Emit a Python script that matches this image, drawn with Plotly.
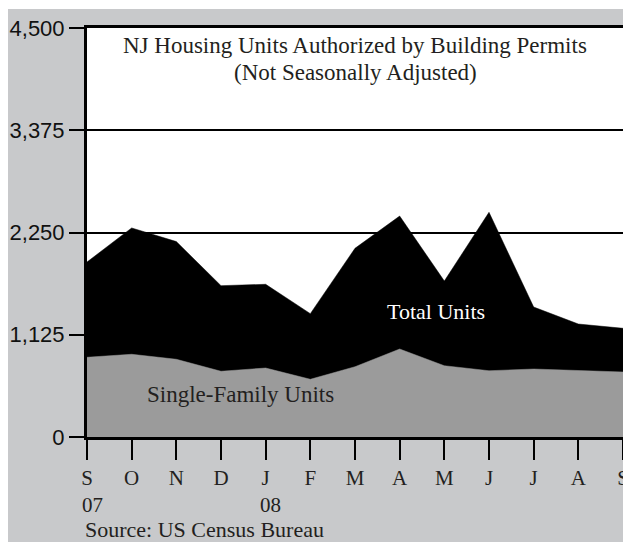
import plotly.graph_objects as go

# Monthly values, Sep 2007 - Sep 2008
months = ["S", "O", "N", "D", "J", "F", "M", "A", "M", "J", "J", "A", "S"]
total_units = [1925, 2300, 2150, 1665, 1680, 1357, 2076, 2431, 1716, 2472, 1430, 1243, 1196]
single_family = [877, 910, 855, 723, 759, 635, 773, 968, 784, 729, 748, 729, 715]
y_ticks = [0, 1125, 2250, 3375, 4500]
year_labels = ["07", "08"]
year_pos = [0, 4]

serif = "Liberation Serif, Times New Roman, serif"
sans = "Liberation Sans, Arial, sans-serif"
ink = "#231f20"
x_idx = list(range(len(months)))

fig = go.Figure()

# black area = total units, gray area on top = single-family
fig.add_trace(go.Scatter(
    x=x_idx, y=total_units, mode="lines", fill="tozeroy",
    fillcolor="#000000", line=dict(color="#000000", width=0.5),
    hoverinfo="skip", showlegend=False,
))
fig.add_trace(go.Scatter(
    x=x_idx, y=single_family, mode="lines", fill="tozeroy",
    fillcolor="#9b9b9b", line=dict(color="#9b9b9b", width=0.5),
    hoverinfo="skip", showlegend=False,
))

annotations = [
    dict(text="NJ Housing Units Authorized by Building Permits", x=0.5, y=0.958,
         xref="paper", yref="paper", showarrow=False, yanchor="middle",
         font=dict(family=serif, size=23, color=ink)),
    dict(text="(Not Seasonally Adjusted)", x=0.5, y=0.89,
         xref="paper", yref="paper", showarrow=False, yanchor="middle",
         font=dict(family=serif, size=23, color=ink)),
    dict(text="Total Units", x=7.81, y=0.306, xref="x", yref="paper",
         showarrow=False, yanchor="middle",
         font=dict(family=serif, size=22, color="#ffffff")),
    dict(text="Single-Family Units", x=3.43, y=0.103, xref="x", yref="paper",
         showarrow=False, yanchor="middle",
         font=dict(family=serif, size=23, color=ink)),
    dict(text="Source: US Census Bureau", x=-0.0075, y=-0.226, xref="paper",
         yref="paper", xanchor="left", yanchor="middle", showarrow=False,
         font=dict(family=serif, size=22, color=ink)),
]
for lbl, pos in zip(year_labels, year_pos):
    annotations.append(dict(
        text=lbl, x=pos, y=-0.1655, xref="x", yref="paper", xshift=5,
        showarrow=False, yanchor="middle",
        font=dict(family=serif, size=21, color=ink),
    ))

fig.update_layout(
    width=623, height=542,
    margin=dict(l=87, r=0, t=28, b=105, pad=0, autoexpand=False),
    paper_bgcolor="#c8c9cb",
    plot_bgcolor="#ffffff",
    annotations=annotations,
    shapes=[
        # white strips along the top and left edge of the picture
        dict(type="rect", xref="paper", yref="paper", x0=-0.2, x1=1.05,
             y0=1.0465, y1=1.1, fillcolor="#ffffff", line=dict(width=0), layer="below"),
        dict(type="rect", xref="paper", yref="paper", x0=-0.2, x1=-0.1474,
             y0=-0.4, y1=1.1, fillcolor="#ffffff", line=dict(width=0), layer="below"),
    ],
    xaxis=dict(
        range=[0, 12], tickvals=x_idx, ticktext=months, automargin=False,
        showgrid=False, zeroline=False, ticklabeloverflow="allow",
        showline=True, linecolor="#000000", linewidth=3, mirror=True,
        ticks="outside", ticklen=20, tickwidth=1.5, tickcolor="#000000",
        tickfont=dict(family=serif, size=21, color=ink),
    ),
    yaxis=dict(
        range=[0, 4500], tickvals=y_ticks, tickformat=",", automargin=False,
        showgrid=True, gridcolor="#000000", gridwidth=1.5, zeroline=False,
        showline=True, linecolor="#000000", linewidth=3,
        ticks="outside", ticklen=15, tickwidth=1.5, tickcolor="#000000",
        tickfont=dict(family=sans, size=22, color="#111111"),
    ),
)

# page body margin would push the 623x542 figure into scrollbars
fig.write_html(
    "out.html",
    config={"displayModeBar": False},
    post_script="document.body.style.margin='0';document.body.style.overflow='hidden';",
)
